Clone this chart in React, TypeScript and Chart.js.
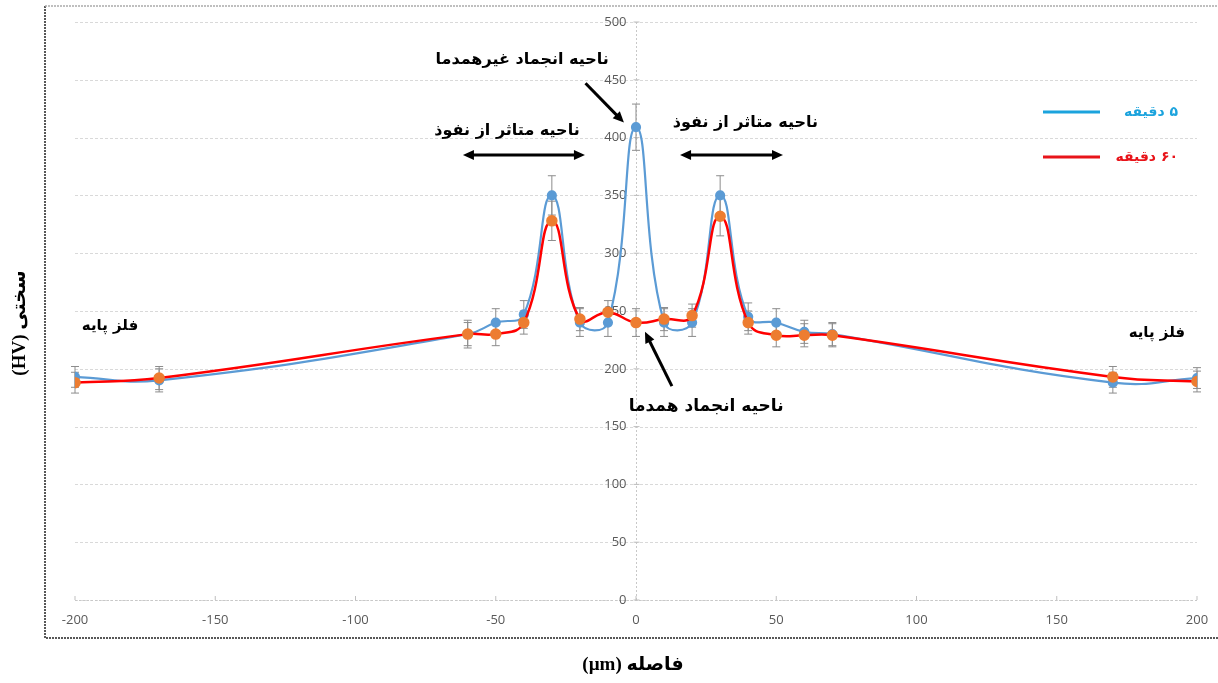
import React, { useEffect, useRef } from 'react';
import { Chart, registerables } from 'chart.js';
Chart.register(...registerables);

// ---- data ----
const distances = [-200, -170, -60, -50, -40, -30, -20, -10, 0, 10, 20, 30, 40, 50, 60, 70, 170, 200];
const hardness5 = [193, 190, 230, 240, 247, 350, 240, 240, 409, 240, 240, 350, 245, 240, 232, 230, 188, 192];
const hardness60 = [188, 192, 230, 230, 240, 328, 243, 249, 240, 243, 246, 332, 240, 229, 229, 229, 193, 189];
const error5 = [9, 10, 12, 12, 12, 17, 12, 12, 20, 12, 12, 17, 12, 12, 10, 10, 9, 9];
const error60 = [9, 10, 10, 10, 10, 17, 10, 10, 12, 10, 10, 17, 10, 10, 10, 10, 9, 9];
const xTickValues = [-200, -150, -100, -50, 0, 50, 100, 150, 200];
const yTickValues = [0, 50, 100, 150, 200, 250, 300, 350, 400, 450, 500];
const seriesLabels = ['۵ دقیقه', '۶۰ دقیقه'];
const xTitle = 'فاصله (µm)';
const yTitle = 'سختی (HV)';
const annotationTexts = ['ناحیه انجماد غیرهمدما', 'ناحیه متاثر از نفوذ', 'ناحیه متاثر از نفوذ', 'ناحیه انجماد همدما', 'فلز پایه', 'فلز پایه'];
const annotationX = [-40.6, -46, 39, 25, -187.5, 185.7];
const annotationY = [467, 406, 413, 167, 237, 231];
const annotationSize = [16, 16, 16, 17, 15, 15];
const arrowFromX = [-18, -61.7, 15.7, 12.8];
const arrowFromY = [447, 385, 385, 185];
const arrowToX = [-4.3, -18.2, 52.4, 3.2];
const arrowToY = [413, 385, 385, 232];
const arrowDouble = [false, true, true, false];

const BLUE = '#5b9bd5';
const RED = '#ff0000';
const ORANGE = '#ed7d31';
const LEGEND_BLUE = '#1ba3dd';
const LEGEND_RED = '#e8141a';
const TICK_FONT = '"Open Sans", "DejaVu Sans", sans-serif';
const FA_FONT = '"DejaVu Sans", sans-serif';

function drawArrowHead(ctx: CanvasRenderingContext2D, fx: number, fy: number, tx: number, ty: number) {
  const ang = Math.atan2(ty - fy, tx - fx);
  const len = 11;
  const w = 5;
  ctx.beginPath();
  ctx.moveTo(tx, ty);
  ctx.lineTo(tx - len * Math.cos(ang) + w * Math.sin(ang), ty - len * Math.sin(ang) - w * Math.cos(ang));
  ctx.lineTo(tx - len * Math.cos(ang) - w * Math.sin(ang), ty - len * Math.sin(ang) + w * Math.cos(ang));
  ctx.closePath();
  ctx.fill();
}

const overlayPlugin = {
  id: 'overlay',
  beforeDatasetsDraw(chart: any) {
    const { ctx, scales } = chart;
    const xs = scales.x;
    const ys = scales.y;
    ctx.save();
    const area = chart.chartArea;
    // horizontal grid lines
    ctx.strokeStyle = '#d9d9d9';
    ctx.lineWidth = 1;
    ctx.setLineDash([3, 2]);
    yTickValues.forEach((v) => {
      const py = Math.round(ys.getPixelForValue(v)) + 0.5;
      ctx.beginPath();
      ctx.moveTo(area.left, py);
      ctx.lineTo(area.right, py);
      ctx.stroke();
    });
    // axis lines (dotted)
    ctx.strokeStyle = '#c8c8c8';
    ctx.setLineDash([2, 2]);
    const x0 = Math.round(xs.getPixelForValue(0)) + 0.5;
    ctx.beginPath();
    ctx.moveTo(x0, area.top);
    ctx.lineTo(x0, area.bottom);
    ctx.stroke();
    ctx.beginPath();
    ctx.moveTo(area.left, area.bottom + 0.5);
    ctx.lineTo(area.right, area.bottom + 0.5);
    ctx.stroke();
    ctx.setLineDash([]);
    // small tick marks on axes
    ctx.strokeStyle = '#bfbfbf';
    xTickValues.forEach((v) => {
      const px = xs.getPixelForValue(v);
      ctx.beginPath();
      ctx.moveTo(px, area.bottom);
      ctx.lineTo(px, area.bottom - 4);
      ctx.stroke();
    });
    yTickValues.forEach((v) => {
      const py = ys.getPixelForValue(v);
      ctx.beginPath();
      ctx.moveTo(x0 - 3, py);
      ctx.lineTo(x0 + 3, py);
      ctx.stroke();
    });
    // tick labels
    ctx.fillStyle = '#595959';
    ctx.font = '13px ' + TICK_FONT;
    ctx.textBaseline = 'middle';
    ctx.textAlign = 'right';
    yTickValues.forEach((v) => {
      ctx.fillText(String(v), x0 - 10, ys.getPixelForValue(v));
    });
    ctx.textAlign = 'center';
    xTickValues.forEach((v) => {
      ctx.fillText(String(v), xs.getPixelForValue(v), area.bottom + 20);
    });
    // error bars
    ctx.strokeStyle = '#8c8c8c';
    ctx.lineWidth = 1;
    const drawErr = (vals: number[], errs: number[]) => {
      vals.forEach((v, i) => {
        const px = xs.getPixelForValue(distances[i]);
        const top = ys.getPixelForValue(v + errs[i]);
        const bot = ys.getPixelForValue(v - errs[i]);
        ctx.beginPath();
        ctx.moveTo(px, top);
        ctx.lineTo(px, bot);
        ctx.moveTo(px - 4, top);
        ctx.lineTo(px + 4, top);
        ctx.moveTo(px - 4, bot);
        ctx.lineTo(px + 4, bot);
        ctx.stroke();
      });
    };
    drawErr(hardness5, error5);
    drawErr(hardness60, error60);
    ctx.restore();
  },
  afterDraw(chart: any) {
    const { ctx, scales, chartArea: area } = chart;
    const xs = scales.x;
    const ys = scales.y;
    ctx.save();
    // frame
    const fl = area.left - 30;
    const ft = area.top - 16;
    const fb = area.bottom + 38;
    ctx.lineWidth = 1.5;
    ctx.setLineDash([2, 1]);
    ctx.strokeStyle = '#222';
    ctx.beginPath();
    ctx.moveTo(fl, ft);
    ctx.lineTo(fl, fb);
    ctx.lineTo(chart.width, fb);
    ctx.stroke();
    ctx.strokeStyle = '#aaa';
    ctx.beginPath();
    ctx.moveTo(fl, ft);
    ctx.lineTo(chart.width, ft);
    ctx.stroke();
    ctx.setLineDash([]);

    // annotations
    ctx.fillStyle = '#000';
    ctx.textAlign = 'center';
    ctx.textBaseline = 'middle';
    (ctx as any).direction = 'rtl';
    annotationTexts.forEach((t, i) => {
      ctx.font = 'bold ' + annotationSize[i] + 'px ' + FA_FONT;
      ctx.fillText(t, xs.getPixelForValue(annotationX[i]), ys.getPixelForValue(annotationY[i]));
    });
    // arrows
    ctx.strokeStyle = '#000';
    ctx.lineWidth = 3;
    arrowFromX.forEach((_, i) => {
      const fx = xs.getPixelForValue(arrowFromX[i]);
      const fy = ys.getPixelForValue(arrowFromY[i]);
      const tx = xs.getPixelForValue(arrowToX[i]);
      const ty = ys.getPixelForValue(arrowToY[i]);
      const ang = Math.atan2(ty - fy, tx - fx);
      const sx = arrowDouble[i] ? fx + 8 * Math.cos(ang) : fx;
      const sy = arrowDouble[i] ? fy + 8 * Math.sin(ang) : fy;
      ctx.beginPath();
      ctx.moveTo(sx, sy);
      ctx.lineTo(tx - 8 * Math.cos(ang), ty - 8 * Math.sin(ang));
      ctx.stroke();
      drawArrowHead(ctx, fx, fy, tx, ty);
      if (arrowDouble[i]) drawArrowHead(ctx, tx, ty, fx, fy);
    });

    // legend
    const legendColors = [LEGEND_BLUE, LEGEND_RED];
    const lineX1 = area.right - 154;
    const lineX2 = area.right - 97;
    const textRight = area.right - 19;
    ctx.font = 'bold 14px ' + FA_FONT;
    ctx.textAlign = 'right';
    seriesLabels.forEach((lab, i) => {
      const y = area.top + 90 + i * 45;
      ctx.strokeStyle = legendColors[i];
      ctx.lineWidth = 3;
      ctx.beginPath();
      ctx.moveTo(lineX1, y);
      ctx.lineTo(lineX2, y);
      ctx.stroke();
      ctx.fillStyle = legendColors[i];
      ctx.fillText(lab, textRight, y);
    });

    // axis titles
    ctx.fillStyle = '#000';
    ctx.font = 'bold 19px "Liberation Serif", "DejaVu Sans", serif';
    ctx.textAlign = 'center';
    ctx.fillText(xTitle, xs.getPixelForValue(0) - 3, area.bottom + 65);
    ctx.save();
    ctx.translate(fl - 25, (area.top + area.bottom) / 2 + 12);
    ctx.rotate(-Math.PI / 2);
    ctx.fillText(yTitle, 0, 0);
    ctx.restore();
    ctx.restore();
  },
};

export default function App() {
  const ref = useRef<HTMLCanvasElement | null>(null);
  useEffect(() => {
    document.body.style.margin = '0';
    if (!ref.current) return;
    const chart = new Chart(ref.current, {
      type: 'line',
      data: {
        datasets: [
          {
            label: seriesLabels[1],
            data: distances.map((x, i) => ({ x, y: hardness60[i] })),
            borderColor: RED,
            backgroundColor: ORANGE,
            pointBackgroundColor: ORANGE,
            pointBorderColor: ORANGE,
            pointRadius: 4.5,
            borderWidth: 2.5,
            tension: 0.45,
            order: 0,
          },
          {
            label: seriesLabels[0],
            data: distances.map((x, i) => ({ x, y: hardness5[i] })),
            borderColor: BLUE,
            backgroundColor: BLUE,
            pointBackgroundColor: BLUE,
            pointBorderColor: BLUE,
            pointRadius: 4,
            borderWidth: 2.2,
            tension: 0.45,
            order: 1,
          },
        ],
      },
      options: {
        animation: false,
        responsive: false,
        layout: { padding: { left: 75, right: 21, top: 22, bottom: 0 } },
        plugins: { legend: { display: false }, tooltip: { enabled: false } },
        scales: {
          x: {
            type: 'linear',
            min: -200,
            max: 200,
            afterFit: (s: any) => {
              s.height = 83;
            },
            grid: { display: false, drawTicks: false },
            border: { display: false },
            ticks: { display: false },
          },
          y: {
            type: 'linear',
            position: { x: 0 } as any,
            min: 0,
            max: 500,
            grid: { display: false },
            border: { display: false },
            ticks: { display: false, stepSize: 50 },
          },
        },
      },
      plugins: [overlayPlugin],
    } as any);
    return () => chart.destroy();
  }, []);
  return (
    <div style={{ width: 1218, height: 683, background: '#fff' }}>
      <canvas ref={ref} width={1218} height={683} style={{ display: 'block' }} />
    </div>
  );
}
